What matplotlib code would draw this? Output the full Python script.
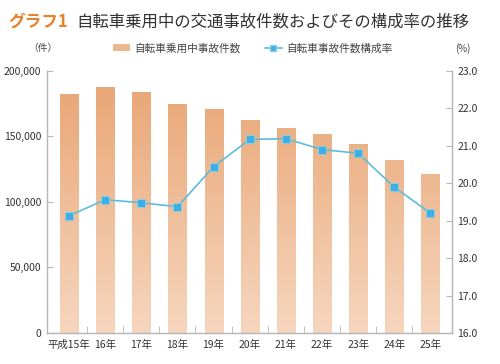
import matplotlib
matplotlib.use("Agg")
import matplotlib.pyplot as plt
import numpy as np
from matplotlib.colors import LinearSegmentedColormap
from matplotlib.lines import Line2D
from matplotlib.patches import Patch

plt.rcParams['font.family'] = ['Noto Sans CJK JP', 'DejaVu Sans']

years = ["平成15年", "16年", "17年", "18年", "19年", "20年", "21年", "22年", "23年", "24年", "25年"]
accidents = [182000, 188000, 183700, 174600, 171000, 162600, 156400, 151900, 144000, 132000, 121000]
ratio = [19.13, 19.56, 19.48, 19.37, 20.44, 21.17, 21.19, 20.90, 20.80, 19.90, 19.20]
left_ticks = [0, 50000, 100000, 150000, 200000]
right_ticks = [16.0, 17.0, 18.0, 19.0, 20.0, 21.0, 22.0, 23.0]

fig = plt.figure(figsize=(5.0, 3.64), dpi=100)
ax = fig.add_axes([0.094, 0.0852, 0.81, 0.72])
ax2 = ax.twinx()

x = np.arange(len(years))
bars = ax.bar(x, accidents, width=0.5, color='none', edgecolor='none', zorder=2)
cmap = LinearSegmentedColormap.from_list("g", ["#F6D6BE", "#E8A472"])
grad = np.linspace(0, 1, 256).reshape(-1, 1)
for b in bars:
    x0, w, h = b.get_x(), b.get_width(), b.get_height()
    im = ax.imshow(grad, cmap=cmap, origin='lower', aspect='auto',
                   extent=[x0, x0 + w, 0, 200000], zorder=2, vmin=0, vmax=1)
    im.set_clip_path(b)

ax.set_xlim(-0.61, 10.6)
ax.set_ylim(0, 200000)
ax2.set_ylim(16.0, 23.0)

ax2.plot(x, ratio, color='#5DBCDC', lw=1.2, marker='s', markersize=6,
         markerfacecolor='#3FAEE0', markeredgecolor='#8DD0EC', markeredgewidth=0.6, zorder=5)

ax.set_yticks(left_ticks)
ax.set_yticklabels([f"{v:,}" for v in left_ticks])
ax2.set_yticks(right_ticks)
ax2.set_yticklabels([f"{v:.1f}" for v in right_ticks])
ax.set_xticks(x)
ax.set_xticklabels(years)
ax.set_xticks(np.arange(len(years) - 1) + 0.5, minor=True)

spine_c = '#B8B8B8'
for a in (ax, ax2):
    a.spines['top'].set_visible(False)
    for s in ('left', 'right', 'bottom'):
        a.spines[s].set_color(spine_c)
        a.spines[s].set_linewidth(0.9)
    a.tick_params(colors='#333333', labelsize=7.5)
ax.tick_params(axis='y', direction='in', length=4, color=spine_c, pad=4)
ax2.tick_params(axis='y', direction='in', length=4, color=spine_c, pad=4)
ax.tick_params(axis='x', which='major', length=0, pad=5)
ax.tick_params(axis='x', which='minor', direction='in', length=5, color=spine_c)

fig.text(0.016, 0.94, "グラフ1", color='#E8812C', fontsize=12, fontweight='bold', va='center')
fig.text(0.152, 0.94, "自転車乗用中の交通事故件数およびその構成率の推移", color='#333333',
         fontsize=11.8, va='center')
fig.text(0.085, 0.868, "（件）", color='#444444', fontsize=7, ha='center', va='center')
fig.text(0.925, 0.868, "(%)", color='#444444', fontsize=7, ha='center', va='center')

handles = [Patch(facecolor='#EEB88E', edgecolor='none'),
           Line2D([0], [0], color='#5DBCDC', lw=1.2, marker='s', markersize=5,
                  markerfacecolor='#3FAEE0', markeredgecolor='#8DD0EC')]
fig.legend(handles, ["自転車乗用中事故件数", "自転車事故件数構成率"], loc='center',
           bbox_to_anchor=(0.505, 0.868), ncol=2, frameon=False, fontsize=7.7,
           handlelength=1.6, columnspacing=2.3, handletextpad=0.4, labelcolor='#444444')

fig.savefig("out.png", dpi=100, facecolor='white')
